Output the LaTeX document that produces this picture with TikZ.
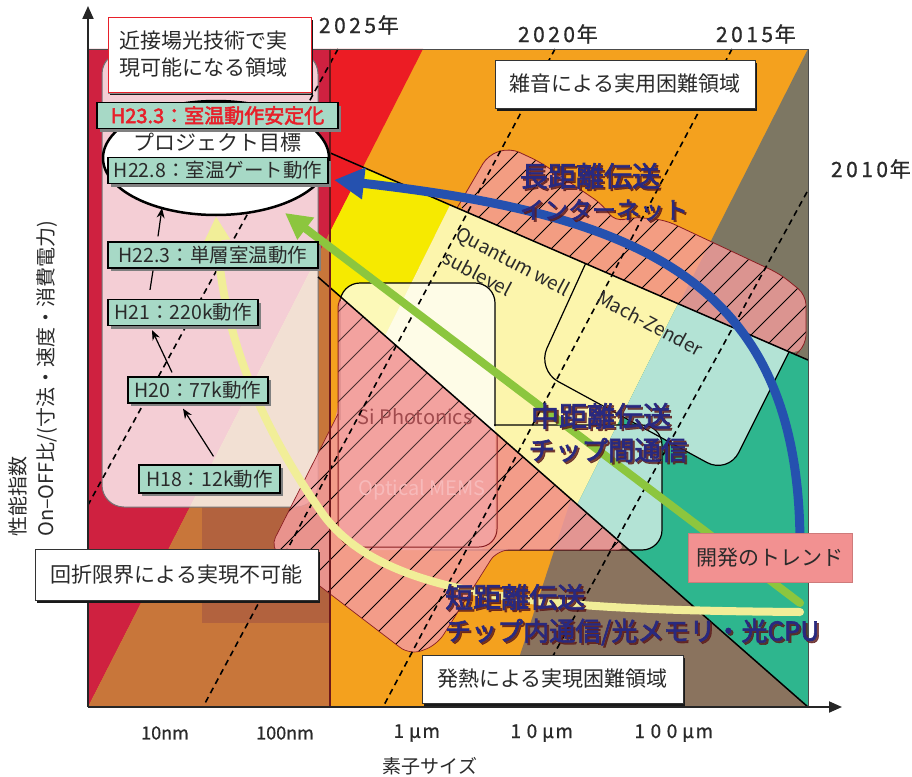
\documentclass[tikz,border=0pt]{standalone}
\usepackage{fontspec}
\setmainfont{Noto Sans CJK JP}
\newfontfamily\jpb[FakeBold=2.5]{Noto Sans CJK JP}
\newfontfamily\jpm[FakeBold=0.8]{Noto Sans CJK JP}
\usetikzlibrary{arrows.meta,shapes.geometric,calc,shadows}
\definecolor{cOrange}{HTML}{F4A11E}
\definecolor{cCrimson}{HTML}{CF2140}
\definecolor{cBrown}{HTML}{C8763A}
\definecolor{cBrownB}{HTML}{B2623E}
\definecolor{cRed}{HTML}{EC1C24}
\definecolor{cGrayU}{HTML}{7D7763}
\definecolor{cGrayL}{HTML}{8A735E}
\definecolor{cYellow}{HTML}{F6EA00}
\definecolor{cLYellow}{HTML}{FCF5AC}
\definecolor{cTeal}{HTML}{2EB68E}
\definecolor{cLCyan}{HTML}{B3E3D5}
\definecolor{cSalmon}{HTML}{F39C9C}
\definecolor{cMaroon}{HTML}{8A1E22}
\definecolor{cLab}{HTML}{A7D9C6}
\definecolor{cTrend}{HTML}{F29191}
\definecolor{cNavy}{HTML}{29297F}
\definecolor{cShadowR}{HTML}{5C1A1A}
\definecolor{cBlue}{HTML}{2551AF}
\definecolor{cGreen}{HTML}{8CC63E}
\definecolor{cPale}{HTML}{F1EE98}
\definecolor{cText}{HTML}{2A2A2A}
\definecolor{cRedText}{HTML}{E8202A}
\newcommand{\dg}[1]{\makebox[0.72em]{#1}}
\newcommand{\fw}[1]{\makebox[0.85em]{#1}}
\begin{document}
\begin{tikzpicture}[x=1pt,y=-1pt,
  hbox/.style={draw=black, line width=1.2pt, fill=cLab, inner sep=0pt, text=cText,
    font=\fontsize{19.5}{22}\selectfont, minimum height=26pt,
    drop shadow={shadow xshift=3pt,shadow yshift=-3pt,fill=black!50,opacity=1}},
  wbox/.style={draw=black!80, line width=0.6pt, fill=white, inner sep=0pt, text=cText,
    font=\fontsize{21}{27}\selectfont,
    drop shadow={shadow xshift=2pt,shadow yshift=-3pt,fill=black!90,opacity=1}},
  bigtxt/.style={text=cNavy, inner sep=0pt},
  shtxt/.style={text=cShadowR, text opacity=0.8, inner sep=0pt},
  yeardash/.style={line width=1.6pt, dash pattern=on 6pt off 4.5pt},
  hatchl/.style={line width=0.9pt, black},
  larrow/.style={line width=1.2pt, -{Stealth[length=10pt,width=8pt]}},
  yeartxt/.style={font=\jpm\fontsize{21}{23}\selectfont, text=cText, inner sep=0pt},
  axtxt/.style={font=\jpm\fontsize{18}{20}\selectfont, text=cText, inner sep=0pt},
  fwtxt/.style={font=\jpm\fontsize{19}{21}\selectfont, text=cText, inner sep=0pt},
  latin/.style={font=\fontsize{19}{21}\selectfont, inner sep=0pt}
]
\useasboundingbox (0,0) rectangle (912,776);
\fill[white] (0,0) rectangle (912,776);

% ---------- background regions
\fill[cOrange] (88,49) rectangle (808,707);
\fill[cCrimson] (88,49) -- (330,49) -- (330,232) -- (88,707) -- cycle;
\fill[cBrown] (330,232) -- (330,707) -- (88,707) -- cycle;
\fill[cBrownB] (202,507) rectangle (330,623);
\fill[cRed] (330,49) -- (423,49) -- (330,232) -- cycle;
\fill[cGrayU] (808,49) -- (808,360) -- (679,304) -- cycle;
\fill[cGrayL] (503,707) -- (808,707) -- (571,499) -- cycle;
\fill[cYellow] (330,232) -- (363,167) -- (450,205) -- (385,336) -- (330,288) -- cycle;
\fill[cLYellow] (450,205) -- (678,304) -- (577,505) -- (385,336) -- cycle;
\fill[cTeal] (678,304) -- (808,360) -- (808,707) -- (577,505) -- cycle;

% ---------- near-field region
\fill[white, opacity=0.78, rounded corners=22] (102,52) rectangle (318,507);
\draw[black!55, line width=1pt, rounded corners=22] (102,52) rectangle (318,507);

% ---------- white box and light cyan boxes
\fill[white, opacity=0.72, rounded corners=20] (340,283) rectangle (495,550);
\begin{scope}
  \clip (678,304) -- (808,360) -- (808,707) -- (577,505) -- cycle;
  \fill[cLCyan, rounded corners=24] (600,232) -- (537,370) -- (728,474) -- (806,318) -- cycle;
  \fill[cLCyan, rounded corners=20] (420,425) rectangle (662,550);
\end{scope}
\begin{scope}
  \clip (330,153) -- (808,360) -- (808,707) -- (330,288) -- cycle;
  \draw[line width=1.2pt, rounded corners=24] (600,232) -- (537,370) -- (728,474) -- (806,318) -- cycle;
\end{scope}
\draw[line width=1.2pt, rounded corners=20] (340,420) -- (340,283) -- (495,283) -- (495,426);
\draw[line width=1.2pt, rounded corners=20] (494,425) -- (662,425) -- (662,550) -- (430,550);

% ---------- lower pink hatched region
\fill[cSalmon, opacity=0.85, rounded corners=12]
  (338,295) -- (628,550) -- (497,550) -- (437,645) -- (410,655) -- (270,548) -- (338,414) -- cycle;
\begin{scope}
  \clip[rounded corners=12]
  (338,295) -- (628,550) -- (497,550) -- (437,645) -- (410,655) -- (270,548) -- (338,414) -- cycle;
  \foreach \k in {-8,...,17} \draw[hatchl] (\k*30,800) -- ++(800,-800);
\end{scope}
\draw[cMaroon, line width=0.7pt, rounded corners=12]
  (628,550) -- (497,550) -- (437,645) -- (410,655) -- (270,548) -- (338,414);
\begin{scope}
  \clip (330,288) -- (808,707) -- (330,707) -- cycle;
  \fill[cSalmon, opacity=0.3, rounded corners=18] (338,290) rectangle (497,547);
  \draw[cMaroon, line width=1pt, rounded corners=18] (338,290) rectangle (497,547);
\end{scope}
\node[latin, text=cMaroon!80!white, font=\fontsize{20}{22}\selectfont] (siph) at (415,417) {Si Photonics};
\node[latin, text=cSalmon!70!white, font=\fontsize{20}{22}\selectfont] (mems) at (422,490) {Optical MEMS};

% ---------- upper pink hatched region
\fill[cSalmon, opacity=0.8, rounded corners=10]
  (457,208) -- (488,155) -- (510,148) -- (540,162) -- (603,205) -- (615,222) -- (632,217)
  -- (665,220) -- (780,274) -- (806,295) -- (806,345) -- (795,355) -- cycle;
\begin{scope}
  \clip[rounded corners=10]
  (457,208) -- (488,155) -- (510,148) -- (540,162) -- (603,205) -- (615,222) -- (632,217)
  -- (665,220) -- (780,274) -- (806,295) -- (806,345) -- (795,355) -- cycle;
  \foreach \k in {-8,...,17} \draw[hatchl] (\k*26,800) -- ++(800,-800);
\end{scope}
\draw[cMaroon, line width=0.8pt, rounded corners=10]
  (457,208) -- (488,155) -- (510,148) -- (540,162) -- (603,205) -- (615,222) -- (632,217)
  -- (665,220) -- (780,274) -- (806,295) -- (806,345) -- (795,355);

% ---------- boundary lines
\draw[line width=1.5pt] (328,152) -- (808,360);
\draw[line width=1.5pt] (318,277) -- (808,707);

% ---------- year dashed lines
\draw[yeardash] (338,49) -- (88,505);
\draw[yeardash] (555,49) -- (203,707);
\draw[yeardash] (732,49) -- (383,707);
\draw[yeardash] (807,192) -- (525,707);

% ---------- frame and axes
\draw[cMaroon!80!black, line width=2pt] (330,49) -- (330,707);
\draw[black!70, line width=0.8pt] (88,49) -- (808,49) -- (808,707);
\draw[black!85, line width=2pt, -{Triangle[length=13pt,width=11pt]}] (88,707) -- (88,6);
\draw[black!85, line width=2pt, -{Triangle[length=13pt,width=11pt]}] (88,707) -- (842,707);

% ---------- project goal ellipse
\node[ellipse, draw=black, line width=2.5pt, fill=white, minimum width=226pt, minimum height=114pt, inner sep=0pt] (goal) at (216,158) {};
\node[font=\fontsize{21}{23}\selectfont, text=cText, inner sep=0pt] (goaltxt) at (217,143) {プロジェクト目標};

% ---------- trend arrows
\coordinate (ystart) at (800,612);
\coordinate (gstart) at (800,603);
\coordinate (bstart) at (800,545);
\coordinate (gtip) at (285,213);
\coordinate (btip) at (334,180);
\draw[cPale, line width=8pt, line cap=round, -{Triangle[length=24pt,width=24pt]}]
  (ystart) .. controls (550,610) and (380,600) .. (320,510) .. controls (250,410) and (222,320) .. (goal.south);
\draw[cGreen, line width=8pt, line cap=round, -{Triangle[length=26pt,width=26pt]}] (gstart) -- (gtip);
\draw[cBlue, line width=9pt, -{Triangle[length=30pt,width=30pt]}]
  (bstart) .. controls (800,280) and (640,215) .. (btip);
\node[fill=cTrend, draw=cTrend!85!black, line width=0.5pt, minimum width=164pt, minimum height=49pt, inner sep=0pt,
  font=\fontsize{21}{23}\selectfont, text=cText] (trend) at (770,557.5) {開発のトレンド};

% ---------- stripe texts
\node[latin, rotate=-28, anchor=west, text=cText] (qw) at (457,233) {Quantum well};
\node[latin, rotate=-28, anchor=west, text=cText] (sub) at (445,256) {sublevel};
\node[latin, rotate=-28, text=cText] (mz) at (650,323) {Mach-Zender};

% ---------- bold transmission labels
\node[shtxt, font=\jpb\fontsize{28}{30}\selectfont] (l1s) at (592,178) {長距離伝送};
\node[bigtxt, font=\jpb\fontsize{28}{30}\selectfont] (l1) at (590,176) {長距離伝送};
\node[shtxt, font=\jpb\fontsize{24}{26}\selectfont] (l2s) at (606,212) {インターネット};
\node[bigtxt, font=\jpb\fontsize{24}{26}\selectfont] (l2) at (604,210) {インターネット};
\node[shtxt, font=\jpb\fontsize{28}{30}\selectfont] (m1s) at (603,418) {中距離伝送};
\node[bigtxt, font=\jpb\fontsize{28}{30}\selectfont] (m1) at (601,416) {中距離伝送};
\node[shtxt, font=\jpb\fontsize{26.5}{28}\selectfont] (m2s) at (610,452) {チップ間通信};
\node[bigtxt, font=\jpb\fontsize{26.5}{28}\selectfont] (m2) at (608,450) {チップ間通信};
\node[shtxt, font=\jpb\fontsize{28}{30}\selectfont, anchor=west] (s1s) at (447,599) {短距離伝送};
\node[bigtxt, font=\jpb\fontsize{28}{30}\selectfont, anchor=west] (s1) at (445,597) {短距離伝送};
\node[shtxt, font=\jpb\fontsize{26}{28}\selectfont, anchor=west] (s2s) at (447,634) {チップ内通信/光メモリ・光CPU};
\node[bigtxt, font=\jpb\fontsize{26}{28}\selectfont, anchor=west] (s2) at (445,632) {チップ内通信/光メモリ・光CPU};

% ---------- milestone boxes
\node[hbox, minimum width=241pt, text=cRedText, font=\jpb\fontsize{20}{22}\selectfont] (h233) at (217.5,115.5) {H23.3：室温動作安定化};
\node[hbox, minimum width=220pt] (h228) at (218,170.5) {H22.8：室温ゲート動作};
\node[hbox, minimum width=210pt] (h223) at (213,255) {H22.3：単層室温動作};
\node[hbox, minimum width=150pt] (h21) at (183,312.5) {H21：220k動作};
\node[hbox, minimum width=140pt] (h20) at (198,390) {H20：77k動作};
\node[hbox, minimum width=141pt, minimum height=28pt] (h18) at (209.5,479) {H18：12k動作};
\draw[larrow] ($(h18.north)+(4,-8)$) -- ($(h20.south)+(-15,5)$);
\draw[larrow] ($(h20.north)+(-26,-4)$) -- ($(h21.south)+(-31,4)$);
\draw[line width=1.2pt] ($(h21.north)+(-33,-9)$) -- ($(h223.south)+(-60,2)$);
\draw[larrow] ($(h223.north)+(-55,-5)$) -- ($(goal.center)+(-54,50)$);

% ---------- white labels
\node[wbox, draw=cRedText, minimum width=203pt, minimum height=75pt, text width=180pt, align=left,
  drop shadow={shadow xshift=0pt,shadow yshift=-2pt,fill=black!45,opacity=1}] (near) at (209.5,54.5)
  {近接場光技術で実\\現可能になる領域};
\node[wbox, minimum width=260pt, minimum height=48pt] (noise) at (625,84) {雑音による実用困難領域};
\node[wbox, minimum width=283pt, minimum height=51pt] (diff) at (176.5,574.5) {回折限界による実現不可能};
\node[wbox, minimum width=261pt, minimum height=48pt] (heat) at (552.5,679) {発熱による実現困難領域};

% ---------- year labels
\node[yeartxt] (y2025) at (358,25) {\dg{2}\dg{0}\dg{2}\dg{5}年};
\node[yeartxt] (y2020) at (557,34) {\dg{2}\dg{0}\dg{2}\dg{0}年};
\node[yeartxt] (y2015) at (755,34) {\dg{2}\dg{0}\dg{1}\dg{5}年};
\node[yeartxt] (y2010) at (870,169) {\dg{2}\dg{0}\dg{1}\dg{0}年};

% ---------- axis labels
\node[axtxt] (x1) at (165,733) {10nm};
\node[axtxt] (x2) at (285,733) {100nm};
\node[fwtxt] (x3) at (415,733) {\fw{1}\fw{μ}\fw{m}};
\node[fwtxt] (x4) at (540,733) {\fw{1}\fw{0}\fw{μ}\fw{m}};
\node[fwtxt] (x5) at (672,733) {\fw{1}\fw{0}\fw{0}\fw{μ}\fw{m}};
\node[font=\fontsize{19}{21}\selectfont, text=cText, inner sep=0pt] (xlab) at (430,766) {素子サイズ};
\node[rotate=90, anchor=north west, align=left, font=\fontsize{20}{28}\selectfont, text=cText, inner sep=0pt] (ylab) at (8,537)
  {性能指数\\On–OFF比/(寸法・速度・消費電力)};
\end{tikzpicture}
\end{document}
